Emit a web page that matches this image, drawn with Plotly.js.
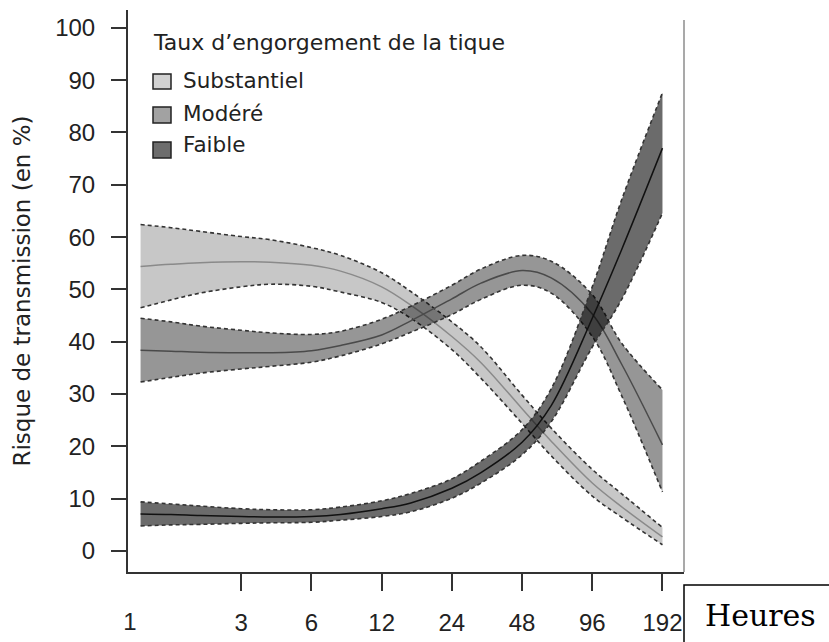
<!DOCTYPE html>
<html>
<head>
<meta charset="utf-8">
<script src="https://cdn.plot.ly/plotly-3.0.1.min.js"></script>
<style>html,body{margin:0;padding:0;background:#fff;}#chart{width:829px;height:642px;}</style>
</head>
<body>
<div id="chart"></div>
<script>
// Hours (log axis)
var hours = [1.11, 1.5, 2, 3, 4, 6, 8, 12, 16, 24, 32, 48, 64, 96, 128, 192];
var tickHours = [3, 6, 12, 24, 48, 96, 192];
var yTicks = [0, 10, 20, 30, 40, 50, 60, 70, 80, 90, 100];

// Substantiel
var subCenter = [54.4, 54.8, 55.1, 55.3, 55.2, 54.6, 53.5, 50.5, 47, 41, 36, 27.2, 21, 13, 8.5, 2.7];
var subUpper  = [62.4, 61.8, 61.1, 60.1, 59.5, 58, 56.5, 53.2, 49.6, 43.8, 39, 29.8, 23.5, 15.6, 11, 4.5];
var subLower  = [46.5, 48, 49.3, 50.5, 51, 50.6, 49.5, 47.5, 44.5, 38.5, 33, 24.4, 18.2, 10.5, 6.5, 1.2];

// Modéré
var modCenter = [38.4, 38.2, 38, 37.9, 37.9, 38.3, 39.3, 41.3, 44, 48.2, 51.2, 53.6, 52.2, 45.3, 35.8, 20.3];
var modUpper  = [44.5, 43.8, 43, 42.2, 41.7, 41.4, 42, 44.3, 46.8, 50.8, 53.9, 56.5, 55.4, 49, 39.8, 30.8];
var modLower  = [32.3, 33.2, 34, 34.8, 35.3, 36.1, 37.3, 39.6, 41.8, 45.2, 48.1, 50.8, 49.3, 41, 29.8, 11.3];

// Faible
var faiCenter = [7.1, 7, 6.8, 6.6, 6.5, 6.6, 7, 8.1, 9.2, 12, 15, 20.8, 27.8, 44.5, 57.5, 77];
var faiUpper  = [9.4, 9, 8.6, 8.1, 7.9, 7.9, 8.4, 9.6, 11, 13.8, 17.2, 23.2, 31, 50.5, 67, 87.6];
var faiLower  = [4.8, 5, 5.1, 5.3, 5.4, 5.5, 5.9, 6.6, 7.5, 10.1, 13, 18.4, 24.7, 39, 48, 64.6];

var legendTitle = "Taux d\u2019engorgement de la tique";
var seriesNames = ["Substantiel", "Modéré", "Faible"];
var legendColors = ["#d2d2d2", "#a2a2a2", "#6c6c6c"];

function band(lower, center, upper, fill, lineColor) {
  var edge = {color: "#333", width: 1.6, dash: "4px,3px", shape: "spline"};
  return [
    {x: hours, y: lower, type: "scatter", mode: "lines", line: edge, hoverinfo: "skip", showlegend: false},
    {x: hours, y: upper, type: "scatter", mode: "lines", line: edge, fill: "tonexty", fillcolor: fill, hoverinfo: "skip", showlegend: false},
    {x: hours, y: center, type: "scatter", mode: "lines", line: {color: lineColor, width: 1.5, shape: "spline"}, showlegend: false}
  ];
}

var traces = []
  .concat(band(subLower, subCenter, subUpper, "rgba(0,0,0,0.22)", "#8a8a8a"))
  .concat(band(modLower, modCenter, modUpper, "rgba(0,0,0,0.41)", "#4a4a4a"))
  .concat(band(faiLower, faiCenter, faiUpper, "rgba(0,0,0,0.58)", "#111111"));

// invisible trace for the second x axis carrying the "1" label
traces.push({x: [1], y: [null], xaxis: "x2", type: "scatter", mode: "lines", showlegend: false, hoverinfo: "skip"});

var L = 128, R = 684, T = 10, B = 572, W = 829, H = 642;
function px(x) { return (x - L) / (R - L); }
function py(y) { return (B - y) / (B - T); }

var shapes = [
  {type: "line", xref: "paper", yref: "paper", x0: 1, x1: 1, y0: 0, y1: py(20), line: {color: "#8c8c8c", width: 1.5}},
  {type: "rect", xref: "paper", yref: "paper", x0: 1, x1: px(840), y0: py(650), y1: py(585), line: {color: "#000", width: 1.5}, fillcolor: "rgba(0,0,0,0)"}
];
var annotations = [
  {xref: "paper", yref: "paper", x: px(151), y: py(43), xanchor: "left", yanchor: "middle", showarrow: false,
   text: legendTitle, font: {family: "DejaVu Sans", size: 22, color: "#222"}},
  {xref: "paper", yref: "paper", x: px(760), y: py(615), xanchor: "center", yanchor: "middle", showarrow: false,
   text: "Heures", font: {family: "DejaVu Serif", size: 30, color: "#000"}}
];
var boxY = [[74, 89], [107, 123], [142, 158]];
var textY = [81, 114, 144];
for (var i = 0; i < 3; i++) {
  shapes.push({type: "rect", xref: "paper", yref: "paper", x0: px(153), x1: px(171), y0: py(boxY[i][1]), y1: py(boxY[i][0]),
    line: {color: "#222", width: 1.5}, fillcolor: legendColors[i]});
  annotations.push({xref: "paper", yref: "paper", x: px(181), y: py(textY[i]), xanchor: "left", yanchor: "middle", showarrow: false,
    text: seriesNames[i], font: {family: "DejaVu Sans", size: 21.5, color: "#222"}});
}

var xr = [Math.log10(1) - 2 / 233.2, Math.log10(1) + (684 - 130) / 233.2];
var tickFont = {family: "Liberation Sans", size: 24, color: "#222"};
var layout = {
  width: W, height: H,
  margin: {l: L, r: W - R, t: T, b: H - B, pad: 0},
  paper_bgcolor: "#fff", plot_bgcolor: "#fff",
  showlegend: false,
  xaxis: {type: "log", range: xr, tickvals: tickHours, ticktext: tickHours.map(String),
    ticks: "outside", ticklen: 17, tickwidth: 2, tickcolor: "#333",
    showline: true, linecolor: "#333", linewidth: 2, showgrid: false, zeroline: false,
    tickfont: tickFont, ticklabelstandoff: 11},
  xaxis2: {type: "log", range: xr, overlaying: "x", side: "bottom", tickvals: [1], ticktext: ["1"],
    ticks: "", showline: false, showgrid: false, zeroline: false,
    tickfont: tickFont, ticklabelstandoff: 33},
  yaxis: {range: [-4.0, 103.4], tickvals: yTicks, ticks: "outside", ticklen: 15, tickwidth: 2, tickcolor: "#333",
    showline: true, linecolor: "#333", linewidth: 2, showgrid: false, zeroline: false,
    tickfont: tickFont, ticklabelstandoff: 11,
    title: {text: "Risque de transmission (en %)", font: {family: "DejaVu Sans", size: 23, color: "#222"}, standoff: 18}},
  shapes: shapes,
  annotations: annotations
};

Plotly.newPlot("chart", traces, layout, {displayModeBar: false, staticPlot: true});
</script>
</body>
</html>
